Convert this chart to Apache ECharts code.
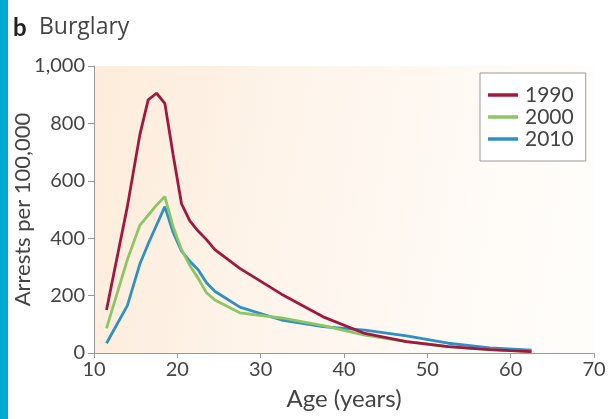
<!DOCTYPE html>
<html>
<head>
<meta charset="utf-8">
<script src="https://cdn.jsdelivr.net/npm/echarts@6/dist/echarts.min.js"></script>
<style>
  html, body { margin: 0; padding: 0; background: #fff; }
  #chart { width: 608px; height: 419px; }
</style>
</head>
<body>
<div id="chart"></div>
<script>
// Ages (midpoints of the age groups)
const ages = [11.5, 14, 15.5, 16.5, 17.5, 18.5, 19.5, 20.5, 21.5, 22.5, 23.5, 24.5, 27.5, 32.5, 37.5, 42.5, 47.5, 52.5, 57.5, 62.5];

// Burglary arrests per 100,000 by year
const arrests1990 = [150, 510, 760, 882, 905, 870, 690, 520, 460, 425, 395, 360, 295, 205, 126, 68, 40, 22, 12, 5];
const arrests2000 = [86, 325, 445, 480, 515, 545, 440, 360, 305, 260, 210, 185, 140, 122, 95, 62, 40, 22, 12, 5];
const arrests2010 = [34, 165, 310, 380, 445, 510, 420, 355, 320, 290, 245, 215, 160, 115, 92, 80, 60, 34, 18, 10];

const seriesNames = ['1990', '2000', '2010'];
const seriesColors = ['#a3173f', '#8cc665', '#2f8fc6'];

const xTicks = [10, 20, 30, 40, 50, 60, 70];
const yTicks = [0, 200, 400, 600, 800, 1000];

const font = 'Lato, "Open Sans", sans-serif';

function pairs(vals) { return ages.map((a, i) => [a, vals[i]]); }

const chart = echarts.init(document.getElementById('chart'), null, { renderer: 'canvas' });

chart.setOption({
  animation: false,
  backgroundColor: '#fff',
  graphic: [
    { type: 'rect', left: 0, top: 0, shape: { width: 8, height: 419 }, style: { fill: '#00a9cf' } },
    { type: 'text', left: 13, top: 16, style: { text: 'b', font: 'bold 24px ' + font, fill: '#222' } },
    { type: 'text', left: 39, top: 16, style: { text: 'Burglary', font: '23px "Open Sans", sans-serif', fill: '#444' } }
  ],
  grid: {
    left: 94, right: 14, top: 66, bottom: 66,
    containLabel: false,
    outerBoundsMode: 'none',
    show: true,
    borderWidth: 0,
    backgroundColor: new echarts.graphic.LinearGradient(0, 0, 1, 0.3, [
      { offset: 0, color: '#fdecda' },
      { offset: 0.5, color: '#fef6ee' },
      { offset: 1, color: '#fffdfa' }
    ])
  },
  legend: {
    data: seriesNames,
    orient: 'vertical',
    left: 480, top: 73,
    itemGap: 0,
    itemWidth: 30,
    itemHeight: 22,
    padding: [11, 12, 11, 8],
    borderColor: '#999',
    borderWidth: 1,
    backgroundColor: '#fff',
    icon: 'path://M0,9 L30,9 L30,12.5 L0,12.5 Z',
    textStyle: { fontSize: 21, lineHeight: 22, color: '#444', fontFamily: font, padding: [0, 0, 0, 2] }
  },
  xAxis: {
    type: 'value',
    min: 10, max: 70, interval: 10,
    name: 'Age (years)',
    nameLocation: 'middle',
    nameGap: 34,
    nameTextStyle: { fontSize: 24, color: '#444', fontFamily: font },
    axisLine: { show: true, lineStyle: { color: '#999', width: 1 } },
    axisTick: { show: true, length: 5, lineStyle: { color: '#999' } },
    axisLabel: { fontSize: 20, color: '#444', fontFamily: font, margin: 7,
      formatter: v => xTicks.includes(v) ? String(v) : '' },
    splitLine: { show: false }
  },
  yAxis: {
    type: 'value',
    min: 0, max: 1000, interval: 200,
    name: 'Arrests per 100,000',
    nameLocation: 'middle',
    nameGap: 60,
    nameMoveOverlap: false,
    nameTextStyle: { fontSize: 22, color: '#444', fontFamily: font },
    axisLine: { show: true, lineStyle: { color: '#999', width: 1 } },
    axisTick: { show: true, length: 6, lineStyle: { color: '#999' } },
    axisLabel: { fontSize: 20, color: '#444', fontFamily: font, margin: 9,
      formatter: v => yTicks.includes(v) ? v.toLocaleString('en-US') : '' },
    splitLine: { show: false }
  },
  series: [
    { name: seriesNames[0], data: pairs(arrests1990) },
    { name: seriesNames[1], data: pairs(arrests2000) },
    { name: seriesNames[2], data: pairs(arrests2010) }
  ].map((s, i) => ({
    type: 'line',
    name: s.name,
    data: s.data,
    showSymbol: false,
    symbol: 'none',
    z: 3 - i,
    lineStyle: { color: seriesColors[i], width: 2.8 },
    itemStyle: { color: seriesColors[i] }
  }))
});
</script>
</body>
</html>
